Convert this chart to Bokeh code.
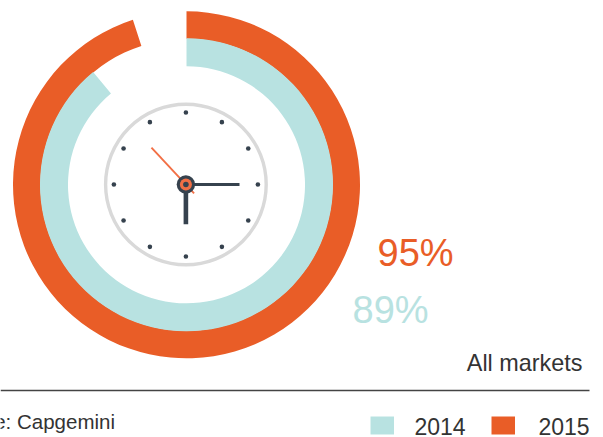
from math import pi, cos, sin
from bokeh.embed import file_html
from bokeh.models import Range1d
from bokeh.plotting import figure
from bokeh.resources import INLINE
from bokeh.core.properties import value

# Share of the dial covered per year
years = ["2014", "2015"]
shares = [89, 95]
share_labels = ["89%", "95%"]
caption = "All markets"
source_text = "Source: Capgemini"

# Clock hands, in degrees clockwise from twelve
hand_angles = {"long": 90, "short": 180, "second": 317}

ORANGE = "#E95D27"
TEAL = "#B8E2E1"
DARK = "#36424E"
RING = "#D9D9D9"
SECOND = "#F26F45"
INK = "#333333"
FONT = value("Liberation Sans")

W, H = 603, 437
p = figure(width=W, height=H, output_backend="svg", toolbar_location=None,
           x_range=Range1d(0, W), y_range=Range1d(0, H), min_border=0,
           outline_line_color=None, background_fill_color="white")
p.axis.visible = False
p.grid.visible = False


def Y(v):
    return H - v


cx, cy = 186.0, Y(184.3)

# Progress rings, both starting from twelve o'clock and running clockwise
for share, color, r0, r1 in [(shares[1], ORANGE, 146, 173.5), (shares[0], TEAL, 118.5, 146.5)]:
    p.annular_wedge(x=cx, y=cy, inner_radius=r0, outer_radius=r1,
                    start_angle=pi / 2, end_angle=pi / 2 - 2 * pi * share / 100,
                    direction="clock", fill_color=color, line_color=None)

# Clock face
kx, ky = 185.4, Y(184.0)
p.circle(x=kx, y=ky, radius=80.3, fill_color=None, line_color=RING, line_width=3.4)
hours = list(range(12))
p.scatter(x=[kx + 72 * sin(h * pi / 6) for h in hours],
          y=[ky + 72 * cos(h * pi / 6) for h in hours],
          size=4.6, marker="circle", fill_color=DARK, line_color=None)


def tip(deg, r):
    a = deg * pi / 180
    return kx + r * sin(a), ky + r * cos(a)


x1, y1 = tip(hand_angles["long"], 53.6)
p.segment(x0=kx, y0=ky, x1=x1, y1=y1, line_color=DARK, line_width=3.2)
x1, y1 = tip(hand_angles["short"], 39.7)
p.segment(x0=kx, y0=ky, x1=x1, y1=y1, line_color=DARK, line_width=4.6)
x0, y0 = tip(hand_angles["second"] - 180, 12)
x1, y1 = tip(hand_angles["second"], 50.5)
p.segment(x0=x0, y0=y0, x1=x1, y1=y1, line_color=SECOND, line_width=1.9)

# Hub
p.circle(x=kx, y=ky, radius=9.2, fill_color=DARK, line_color=None)
p.circle(x=kx, y=ky, radius=6.0, fill_color=SECOND, line_color=None)
p.circle(x=kx, y=ky, radius=2.8, fill_color=DARK, line_color=None)

# Value labels
p.text(x=[377], y=[Y(252.5)], text=[share_labels[1]], text_color=ORANGE, text_font=FONT,
       text_font_size="38px", text_baseline="middle")
p.text(x=[352], y=[Y(309.5)], text=[share_labels[0]], text_color=TEAL, text_font=FONT,
       text_font_size="38px", text_baseline="middle")

p.text(x=[582], y=[Y(362.5)], text=[caption], text_color=INK, text_font=FONT,
       text_font_size="23.4px", text_align="right", text_baseline="middle")

# Footer rule and source line
p.segment(x0=0, y0=Y(390), x1=589, y1=Y(390), line_color="#444444", line_width=1.4)
p.text(x=[114.5], y=[Y(420.5)], text=[source_text], text_color=INK, text_font=FONT,
       text_font_size="20.5px", text_align="right", text_baseline="middle")

# Legend
for label, color, sx, tx in [(years[0], TEAL, 370, 414), (years[1], ORANGE, 491, 538)]:
    p.quad(left=sx, right=sx + 23.5, top=Y(416), bottom=Y(434), fill_color=color, line_color=None)
    p.text(x=[tx], y=[Y(425.5)], text=[label], text_color=INK, text_font=FONT,
           text_font_size="23px", text_baseline="middle")

open("out.html", "w").write(file_html(p, INLINE))
